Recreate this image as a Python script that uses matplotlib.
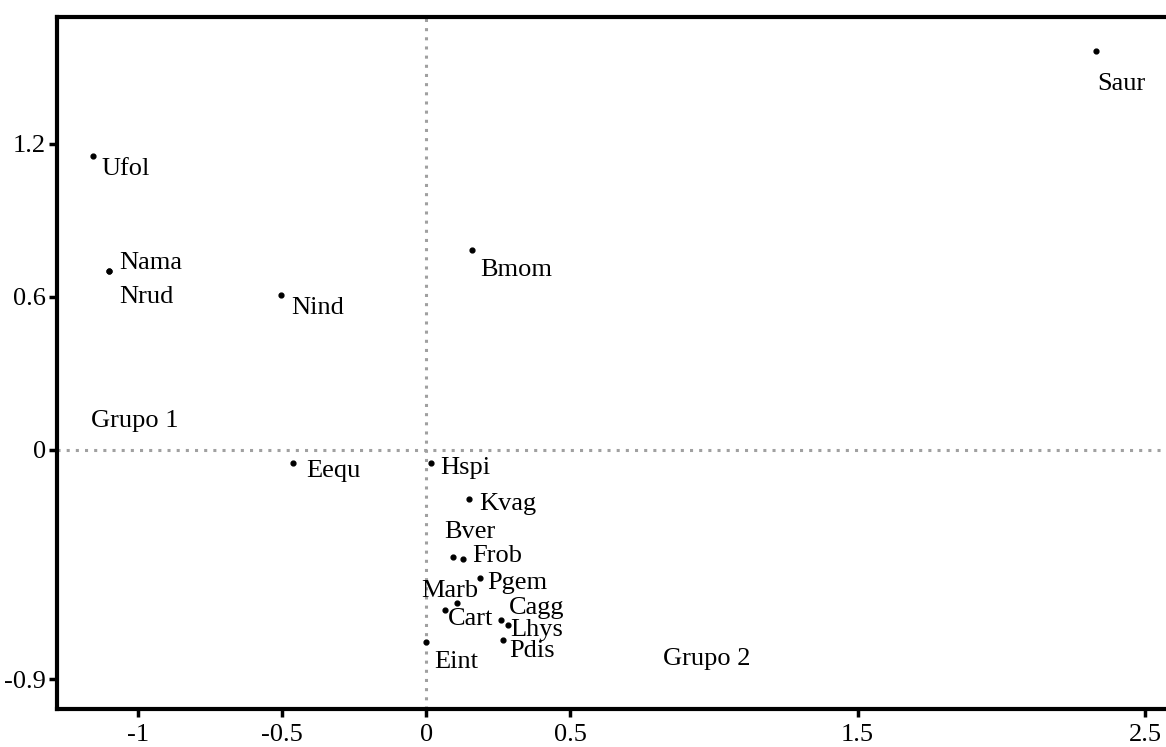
import matplotlib.pyplot as plt

plt.rcParams['font.family'] = ['Liberation Serif', 'DejaVu Serif']

# species scores on the first two axes
species = ["Saur", "Ufol", "Bmom", "Nama", "Nrud", "Nind", "Eequ", "Hspi",
           "Kvag", "Bver", "Frob", "Pgem", "Marb", "Cart", "Cagg", "Lhys",
           "Pdis", "Eint"]
axis1 = [2.327, -1.158, 0.161, -1.103, -1.103, -0.504, -0.461, 0.016,
         0.149, 0.093, 0.127, 0.186, 0.106, 0.065, 0.261, 0.283,
         0.267, 0.0]
axis2 = [1.566, 1.153, 0.783, 0.701, 0.701, 0.608, -0.053, -0.053,
         -0.194, -0.419, -0.428, -0.503, -0.600, -0.626, -0.666, -0.688,
         -0.746, -0.754]

groups = ["Grupo 1", "Grupo 2"]
group_x = [-1.164, 0.824]
group_y = [0.114, -0.820]

xticks = [-1, -0.5, 0, 0.5, 1.5, 2.5]
xtick_labels = ["-1", "-0.5", "0", "0.5", "1.5", "2.5"]
yticks = [1.2, 0.6, 0, -0.9]
ytick_labels = ["1.2", "0.6", "0", "-0.9"]

# label offsets from each point, in pixels
offsets = {
    "Saur": (2, -33), "Ufol": (8, -13), "Bmom": (8, -20), "Nama": (10, 8),
    "Nrud": (10, -26), "Nind": (10, -13), "Eequ": (13, -8), "Hspi": (9, -5),
    "Kvag": (10, -5), "Bver": (-9, 25), "Frob": (10, 3), "Pgem": (8, -5),
    "Marb": (-35, 12), "Cart": (3, -9), "Cagg": (8, 12), "Lhys": (3, -5),
    "Pdis": (6, -11), "Eint": (8, -20),
}

fig = plt.figure(figsize=(11.66, 7.47), dpi=100)
ax = fig.add_axes([0.0489, 0.0509, 0.9588, 0.9264])

ax.axhline(0, color="#a0a0a0", lw=2.2, ls=(0, (1, 2)), zorder=1)
ax.axvline(0, color="#a0a0a0", lw=2.2, ls=(0, (1, 2)), zorder=1)

ax.scatter(axis1, axis2, s=12, color="black", zorder=3)

for name, x, y in zip(species, axis1, axis2):
    dx, dy = offsets[name]
    ax.annotate(name, (x, y), xytext=(dx, dy), textcoords="offset pixels",
                fontsize=19, ha="left", va="center", color="black")

for name, x, y in zip(groups, group_x, group_y):
    ax.text(x, y, name, fontsize=19, ha="left", va="center")

ax.set_xlim(-1.283, 2.603)
ax.set_ylim(-1.016, 1.698)

ax.set_xticks(xticks)
ax.set_xticklabels(xtick_labels)
ax.set_yticks(yticks)
ax.set_yticklabels(ytick_labels)
ax.tick_params(direction="out", length=6, width=2.5, labelsize=19, pad=2)
ax.tick_params(axis="x", pad=5)

for side in ["left", "bottom", "top"]:
    ax.spines[side].set_linewidth(3)
ax.spines["right"].set_visible(False)

fig.savefig("out.png", dpi=100)
